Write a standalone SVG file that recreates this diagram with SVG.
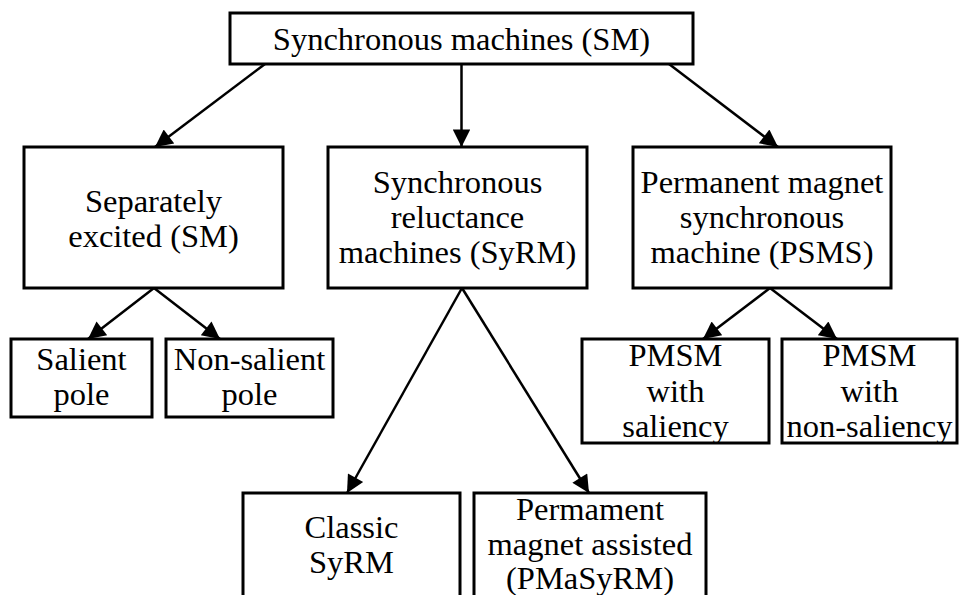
<svg xmlns="http://www.w3.org/2000/svg" width="960" height="595" viewBox="0 0 960 595">
<style>
.box{fill:#fff;stroke:#000;stroke-width:3}
.t{font-family:'Liberation Serif','Times New Roman',Times,'DejaVu Serif','Noto Serif',serif;font-size:32.5px;fill:#000;text-anchor:middle}
.c{stroke:#000;stroke-width:2.5;fill:none;marker-end:url(#ah)}
</style>
<defs>
<marker id="ah" viewBox="0 0 10 10" refX="10" refY="5" markerWidth="8.5" markerHeight="7" markerUnits="strokeWidth" orient="auto">
<path d="M0,0 L10,5 L0,10 z" fill="#000"/>
</marker>
</defs>
<rect width="960" height="595" fill="#fff"/>
<g id="connectors">
<line class="c" x1="265" y1="64" x2="155" y2="147"/>
<line class="c" x1="461.5" y1="64" x2="461.5" y2="147"/>
<line class="c" x1="669" y1="64" x2="778" y2="147"/>
<line class="c" x1="154" y1="288" x2="88" y2="339"/>
<line class="c" x1="154" y1="288" x2="220" y2="339"/>
<line class="c" x1="462" y1="288" x2="347" y2="493"/>
<line class="c" x1="462" y1="288" x2="589" y2="493"/>
<line class="c" x1="770" y1="288" x2="703" y2="339"/>
<line class="c" x1="770" y1="288" x2="837" y2="339"/>
</g>
<g id="sm">
<rect class="box" x="230" y="13" width="463" height="51"/>
<text class="t" x="461.5" y="50" font-family="Liberation Serif, serif">Synchronous machines (SM)</text>
</g>
<g id="separately">
<rect class="box" x="24" y="147" width="259" height="141"/>
<text class="t" x="153.5" y="212">Separately</text>
<text class="t" x="153.5" y="247">excited (SM)</text>
</g>
<g id="syrm">
<rect class="box" x="328" y="147" width="259" height="141"/>
<text class="t" x="457.5" y="193">Synchronous</text>
<text class="t" x="457.5" y="228">reluctance</text>
<text class="t" x="457.5" y="263">machines (SyRM)</text>
</g>
<g id="psms">
<rect class="box" x="633" y="147" width="258" height="141"/>
<text class="t" x="762" y="193">Permanent magnet</text>
<text class="t" x="762" y="228">synchronous</text>
<text class="t" x="762" y="263">machine (PSMS)</text>
</g>
<g id="salient">
<rect class="box" x="11" y="339" width="141" height="78"/>
<text class="t" x="81.5" y="370">Salient</text>
<text class="t" x="81.5" y="405">pole</text>
</g>
<g id="nonsalient">
<rect class="box" x="166" y="339" width="167" height="78"/>
<text class="t" x="249.5" y="370">Non-salient</text>
<text class="t" x="249.5" y="405">pole</text>
</g>
<g id="pmsm-saliency">
<rect class="box" x="582" y="339" width="187" height="104"/>
<text class="t" x="675.5" y="366">PMSM</text>
<text class="t" x="675.5" y="402">with</text>
<text class="t" x="675.5" y="437">saliency</text>
</g>
<g id="pmsm-nonsaliency">
<rect class="box" x="782" y="339" width="175" height="104"/>
<text class="t" x="869.5" y="366">PMSM</text>
<text class="t" x="869.5" y="402">with</text>
<text class="t" x="869.5" y="437">non-saliency</text>
</g>
<g id="classic">
<rect class="box" x="243" y="493" width="217" height="120"/>
<text class="t" x="351.5" y="538">Classic</text>
<text class="t" x="351.5" y="573">SyRM</text>
</g>
<g id="pmasyrm">
<rect class="box" x="474" y="493" width="232" height="120"/>
<text class="t" x="590" y="520">Permament</text>
<text class="t" x="590" y="555">magnet assisted</text>
<text class="t" x="590" y="589">(PMaSyRM)</text>
</g>
</svg>
